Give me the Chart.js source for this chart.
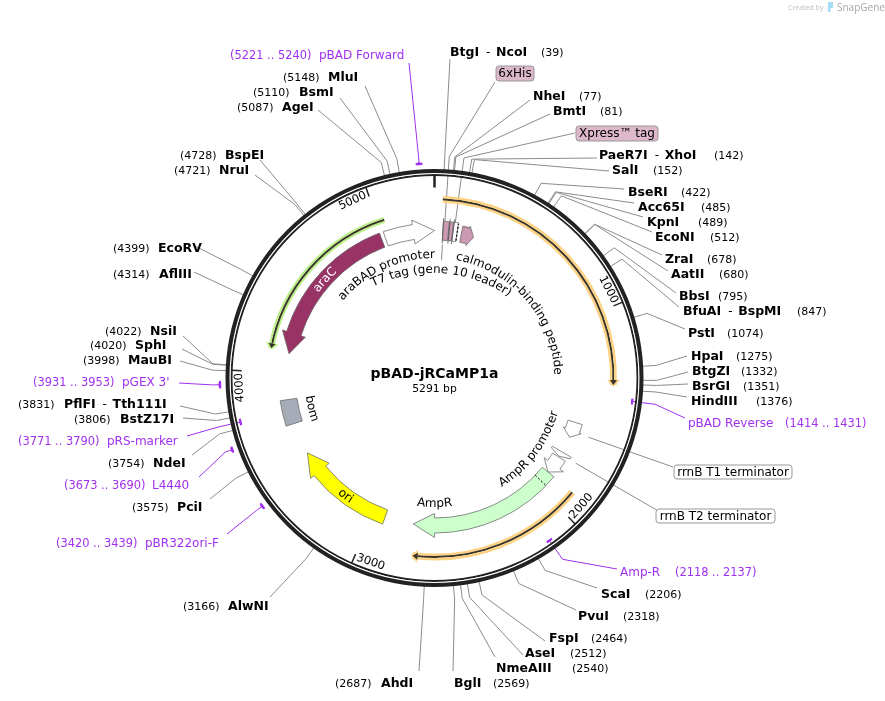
<!DOCTYPE html>
<html>
<head>
<meta charset="utf-8">
<title>pBAD-jRCaMP1a</title>
<script src="https://cdn.jsdelivr.net/npm/chart.js@4"></script>
<style>
  html, body { margin: 0; padding: 0; background: #fff; }
  canvas { display: block; }
</style>
</head>
<body>
<canvas id="map" width="885" height="701"></canvas>
<script>
// Plasmid
const plasmidName = 'pBAD-jRCaMP1a';
const plasmidSize = 5291;
const tickSites = [1000, 2000, 3000, 4000, 5000];

// Restriction sites
const enzymeNames = ['BtgI - NcoI', 'NheI', 'BmtI', 'PaeR7I - XhoI', 'SalI', 'BseRI', 'Acc65I', 'KpnI', 'EcoNI', 'ZraI',
  'AatII', 'BbsI', 'BfuAI - BspMI', 'PstI', 'HpaI', 'BtgZI', 'BsrGI', 'HindIII', 'ScaI', 'PvuI',
  'FspI', 'AseI', 'NmeAIII', 'BglI', 'AhdI', 'AlwNI', 'PciI', 'NdeI', 'BstZ17I', 'PflFI - Tth111I',
  'MauBI', 'SphI', 'NsiI', 'AflIII', 'EcoRV', 'NruI', 'BspEI', 'AgeI', 'BsmI', 'MluI'];
const enzymeSites = [39, 77, 81, 142, 152, 422, 485, 489, 512, 678,
  680, 795, 847, 1074, 1275, 1332, 1351, 1376, 2206, 2318,
  2464, 2512, 2540, 2569, 2687, 3166, 3575, 3754, 3806, 3831,
  3998, 4020, 4022, 4314, 4399, 4721, 4728, 5087, 5110, 5148];

// Primers
const primerNames = ['pBAD Forward', 'pBAD Reverse', 'Amp-R', 'pBR322ori-F', 'L4440', 'pRS-marker', "pGEX 3'"];
const primerFrom = [5221, 1414, 2118, 3420, 3673, 3771, 3931];
const primerTo = [5240, 1431, 2137, 3439, 3690, 3790, 3953];
const primerOutside = [true, false, false, true, true, false, true];

// Features: from / head base / tip, in bp
const featureNames = ['araC', 'araBAD promoter', 'AmpR', 'AmpR promoter', 'ori', 'bom', 'rrnB T1 terminator', 'rrnB T2 terminator',
  'T7 tag', '6xHis', 'Xpress tag', 'calmodulin-binding peptide'];
const featureFrom = [4985, 5007, 1905, 1800, 2933, 3704, 1580, 1765, 48, 83, 106, 155];
const featureHead = [4226, 5170, 2645, 1852, 3395, 3845, 1629, 1775, 80, 103, 130, 195];
const featureTip = [4107, 5291, 2767, 1905, 3520, 3845, 1671, 1795, 80, 103, 130, 228];
const featureSignalEnd = 1969;

// Highlighted translated regions
const orfFrom = [39, 1906, 5032];
const orfTip = [1356, 2749, 4121];

// Text along the circle
const arcTexts = ['araC', 'araBAD promoter', 'T7 tag (gene 10 leader)', 'calmodulin-binding peptide', 'AmpR promoter', 'AmpR', 'ori', 'bom'];
const arcTextSites = [4583, 4925, 62, 725, 1867, 2645, 3190, 3763];

// ---- layout and styles ----
const cx = 434.5, cy = 378;
const leaderElbow = 222;
const enzymeNameX = [450, 533, 553, 599, 612, 628, 638, 647, 655, 665, 671, 679, 683, 688, 691, 692, 692, 691, 601, 578,
  549, 525, 496, 454, 381, 228, 177, 153, 120, 64, 128, 135, 150, 159, 158, 219, 225, 282, 299, 328];
const enzymeNumberX = [541, 579, 600, 714, 653, 681, 701, 698, 710, 707, 719, 718, 797, 727, 736, 741, 743, 756, 645, 623,
  591, 570, 572, 493, 335, 183, 132, 108, 74, 18, 83, 90, 105, 113, 113, 174, 180, 237, 253, 283];
const enzymeY = [52, 96, 111, 155, 170, 192, 207, 222, 237, 259, 274, 296, 311, 333, 356, 371, 386, 401, 594, 616,
  638, 653, 668, 683, 683, 606, 507, 463, 419, 404, 360, 345, 331, 274, 248, 170, 155, 107, 92, 77];
const enzymeEndX = [450, 530, 550, 597, 609, 624, 634, 643, 652, 662, 668, 676, 679, 685, 687, 688, 688, 687, 597, 576,
  545, 523, 495, 453, 419, 270, 210, 192, 183, 180, 180, 182, 183, 194, 193, 255, 260, 318, 340, 365];
const enzymeEndY = [59, 100, 114, 158, 171, 189, 203, 217, 232, 255, 271, 293, 307, 329, 356, 372, 384, 397, 588, 610,
  641, 655, 657, 671, 671, 597, 499, 455, 418, 406, 361, 349, 336, 272, 245, 175, 160, 110, 98, 86];
const primerTextX = [319, 688, 620, 145, 152, 107, 122];
const primerRangeX = [230, 785, 675, 56, 64, 18, 33];
const primerY = [55, 423, 572, 543, 485, 441, 382];
const primerEndX = [409, 685, 617, 227, 199, 187, 179];
const primerEndY = [63, 418, 569, 534, 477, 436, 383];
const featureFill = ['#993366', '#ffffff', '#ccffcc', '#ffffff', '#ffff00', '#a6acb7', '#ffffff', '#ffffff', '#cc99b2', '#cc99b2', '#ffffff', '#cc99b2'];
const featureInner = [140, 140, 140, 140, 140, 139, 140, 136, 138, 138, 138, 138];
const featureOuter = [155, 155, 155, 155, 155, 156, 155, 158, 157, 157, 157, 154];
const featureOver = [4.5, 4.5, 4.5, 4.5, 4.5, 0, 2, 0, 0, 0, 0, 2];
const arcTextRadius = [144, 120, 105, 120, 128, 129, 151, 130];
const arcTextBend = [144, 120, 135, 120, 128, 129, 151, 130];
const arcTextColor = ['#ffffff', '#000', '#000', '#000', '#000', '#000', '#000', '#000'];
const orfRadius = [179, 179, 166];
const orfHalo = ['#fdd283', '#fdd283', '#b9ef86'];
const purple = '#a030f0', gray = '#8c8c8c', dark = '#3a3428', ringBlack = '#222222';
const regular = '12px "DejaVu Sans"', bold = 'bold 12.5px "DejaVu Sans"', number = '11px "DejaVu Sans"';

const rad = bp => bp / plasmidSize * 2 * Math.PI;
const polar = (bp, r) => [cx + r * Math.sin(rad(bp)), cy - r * Math.cos(rad(bp))];

// One doughnut ring: [from, to, colour] spans, the rest stays clear
function ring(width, spans) {
  const data = [], backgroundColor = [];
  let pos = 0;
  spans.slice().sort((a, b) => a[0] - b[0]).forEach(s => {
    data.push(s[0] - pos, s[1] - s[0]);
    backgroundColor.push('transparent', s[2]);
    pos = s[1];
  });
  data.push(plasmidSize - pos);
  backgroundColor.push('transparent');
  return { data, backgroundColor, weight: width, borderWidth: 0, hoverBorderWidth: 0 };
}

const wholeCircle = c => [[0, plasmidSize, c]];
const primerSpans = outside => primerNames.map((n, i) => [primerFrom[i], primerTo[i], purple]).filter((s, i) => primerOutside[i] === outside);
const orfSpans = (list, c) => list.map(i => [Math.min(orfFrom[i], orfTip[i]), Math.max(orfFrom[i], orfTip[i]), c || orfHalo[i]]);
const featureSpans = featureNames.map((n, i) => [Math.min(featureFrom[i], featureHead[i]), Math.max(featureFrom[i], featureHead[i]), featureFill[i]]);

const datasets = [
  ring(2.5, primerSpans(true)),
  ring(4.5, []),
  ring(4, wholeCircle(ringBlack)),
  ring(1, wholeCircle('#ffffff')),
  ring(2, wholeCircle(ringBlack)),
  ring(2, []),
  ring(2, primerSpans(false)),
  ring(15.5, []),
  ring(2.5, orfSpans([0, 1])),
  ring(2, orfSpans([0, 1], dark)),
  ring(2.5, orfSpans([0, 1])),
  ring(6.5, []),
  ring(2, orfSpans([2])),
  ring(2, orfSpans([2], dark)),
  ring(2, orfSpans([2])),
  ring(8, []),
  ring(15, featureSpans)
];

function line(ctx, pts, color, width) {
  ctx.beginPath();
  pts.forEach((p, i) => i ? ctx.lineTo(p[0], p[1]) : ctx.moveTo(p[0], p[1]));
  ctx.strokeStyle = color;
  ctx.lineWidth = width || 1;
  ctx.stroke();
}

function text(ctx, str, x, y, font, color, align) {
  ctx.font = font;
  ctx.fillStyle = color || '#000';
  ctx.textAlign = align || 'left';
  ctx.textBaseline = 'middle';
  ctx.fillText(str, x, y);
}

function box(ctx, str, x, y, w, h, fill) {
  ctx.beginPath();
  ctx.roundRect(x, y, w, h, 3);
  ctx.fillStyle = fill;
  ctx.fill();
  ctx.strokeStyle = '#999';
  ctx.lineWidth = 1;
  ctx.stroke();
  text(ctx, str, x + w / 2, y + h / 2 + 0.5, regular, '#000', 'center');
}

// Feature arrow: band along the circle, head from headBp to tipBp
function arrow(ctx, from, head, tip, rIn, rOut, over, fill, stroke) {
  const ccw = tip < from;
  const midR = (rIn + rOut) / 2;
  const a0 = rad(from) - Math.PI / 2, a1 = rad(head) - Math.PI / 2;
  ctx.beginPath();
  ctx.arc(cx, cy, rOut, a0, a1, ccw);
  if (tip !== head) {
    ctx.lineTo(...polar(head, rOut + over));
    ctx.lineTo(...polar(tip, midR));
    ctx.lineTo(...polar(head, rIn - over));
  }
  ctx.arc(cx, cy, rIn, a1, a0, !ccw);
  ctx.closePath();
  ctx.fillStyle = fill;
  ctx.fill();
  if (stroke) {
    ctx.strokeStyle = stroke;
    ctx.lineWidth = 0.8;
    ctx.stroke();
  }
}

// Letters placed one at a time along a curve through polar(bp, r) with radius bend;
// the lower half reads the other way
function arcText(ctx, str, bp, r, bend, color) {
  const flip = bp > plasmidSize / 4 && bp < plasmidSize * 3 / 4;
  const ox = cx + (r - bend) * Math.sin(rad(bp)), oy = cy - (r - bend) * Math.cos(rad(bp));
  ctx.font = regular;
  ctx.fillStyle = color;
  ctx.textAlign = 'center';
  ctx.textBaseline = 'alphabetic';
  const total = ctx.measureText(str).width;
  let used = 0;
  for (const ch of str) {
    const w = ctx.measureText(ch).width;
    const off = (used + w / 2 - total / 2) / bend;
    const a = rad(bp) + (flip ? -off : off);
    ctx.save();
    ctx.translate(ox + bend * Math.sin(a), oy - bend * Math.cos(a));
    ctx.rotate(flip ? a + Math.PI : a);
    ctx.fillText(ch, 0, 0);
    ctx.restore();
    used += w;
  }
}

function enzymeLabel(ctx, i) {
  const parts = enzymeNames[i].split(' - ');
  let x = enzymeNameX[i];
  const y = enzymeY[i] + 1;
  text(ctx, parts[0], x, y, bold);
  if (parts[1]) {
    x += ctx.measureText(parts[0]).width + 7;
    text(ctx, '-', x, y, regular);
    text(ctx, parts[1], x + 10, y, bold);
  }
  text(ctx, '(' + enzymeSites[i] + ')', enzymeNumberX[i], y, number);
}

const leaderPlugin = {
  id: 'leaders',
  beforeDatasetsDraw(chart) {
    const ctx = chart.ctx;
    enzymeSites.forEach((site, i) => {
      line(ctx, [polar(site, 205), polar(site, leaderElbow), [enzymeEndX[i], enzymeEndY[i]]], gray);
    });
    primerNames.forEach((n, i) => {
      const mid = (primerFrom[i] + primerTo[i]) / 2;
      line(ctx, [polar(mid, primerOutside[i] ? 214 : 199), polar(mid, leaderElbow), [primerEndX[i], primerEndY[i]]], purple);
    });
    // feature callouts, they pass behind the circle
    line(ctx, [polar(56, 150), polar(56, leaderElbow), [495, 82]], gray);
    line(ctx, [polar(112, 150), polar(112, leaderElbow), [575, 133]], gray);
    line(ctx, [polar(1632, 165), [673, 467]], gray);
    line(ctx, [polar(1780, 165), [656.7, 510]], gray);
    line(ctx, [polar(50, 134), polar(50, 118)], gray);
  }
};

const labelPlugin = {
  id: 'labels',
  afterDatasetsDraw(chart) {
    const ctx = chart.ctx;

    // primer marks, a bit longer than their span like the original
    ctx.save();
    ctx.lineCap = 'square';
    primerNames.forEach((n, i) => {
      ctx.beginPath();
      ctx.arc(cx, cy, primerOutside[i] ? 214.5 : 199, rad(primerFrom[i]) - Math.PI / 2, rad(primerTo[i]) - Math.PI / 2);
      ctx.strokeStyle = purple;
      ctx.lineWidth = 2;
      ctx.stroke();
    });
    ctx.restore();

    // feature shapes
    featureNames.forEach((n, i) => {
      arrow(ctx, featureFrom[i], featureHead[i], featureTip[i], featureInner[i], featureOuter[i], featureOver[i], featureFill[i], '#707070');
    });
    ctx.save();
    ctx.setLineDash([2, 2]);
    line(ctx, [polar(featureSignalEnd, 140), polar(featureSignalEnd, 155)], '#000', 1);
    line(ctx, [polar(130, 139), polar(130, 156)], '#000', 1.2);
    ctx.restore();
    [48, 83, 106].forEach(bp => line(ctx, [polar(bp, 135), polar(bp, 160)], '#555', 0.8));

    // arrow heads of the highlighted regions
    orfFrom.forEach((from, i) => {
      const dir = orfTip[i] > from ? -1 : 1;
      const base = orfTip[i] + dir * 24, r = orfRadius[i];
      ctx.beginPath();
      ctx.moveTo(...polar(base, r + 6.5));
      ctx.lineTo(...polar(orfTip[i] - dir * 8, r));
      ctx.lineTo(...polar(base, r - 6.5));
      ctx.closePath();
      ctx.fillStyle = orfHalo[i];
      ctx.fill();
      ctx.beginPath();
      ctx.moveTo(...polar(base, r + 3.5));
      ctx.lineTo(...polar(orfTip[i], r));
      ctx.lineTo(...polar(base, r - 3.5));
      ctx.closePath();
      ctx.fillStyle = dark;
      ctx.fill();
    });

    // position ticks
    line(ctx, [polar(0, 203), polar(0, 190.5)], ringBlack, 2.5);
    tickSites.forEach(site => {
      line(ctx, [polar(site, 203), polar(site, 193)], ringBlack, 1.5);
      const a = rad(site) - 5 * Math.PI / 180;
      const flip = site > plasmidSize / 4 && site < plasmidSize * 3 / 4;
      ctx.save();
      ctx.translate(cx + 195 * Math.sin(a), cy - 195 * Math.cos(a));
      ctx.rotate(flip ? a + Math.PI : a);
      text(ctx, String(site), 0, 0, '11.5px "DejaVu Sans"', '#000', 'center');
      ctx.restore();
    });

    arcTexts.forEach((t, i) => arcText(ctx, t, arcTextSites[i], arcTextRadius[i], arcTextBend[i], arcTextColor[i]));
    enzymeNames.forEach((n, i) => enzymeLabel(ctx, i));

    primerNames.forEach((n, i) => {
      text(ctx, n, primerTextX[i], primerY[i] + 1, regular, purple);
      text(ctx, '(' + primerFrom[i] + ' .. ' + primerTo[i] + ')', primerRangeX[i], primerY[i] + 1, '11.4px "DejaVu Sans"', purple);
    });

    box(ctx, '6xHis', 496, 66, 38, 15, '#dcb8ca');
    box(ctx, 'Xpress\u2122 tag', 576, 126, 82, 15, '#dcb8ca');
    box(ctx, 'rrnB T1 terminator', 674, 465, 118, 14, '#fff');
    box(ctx, 'rrnB T2 terminator', 656, 509, 119, 14, '#fff');

    text(ctx, plasmidName, cx, 374, 'bold 14px "DejaVu Sans"', '#000', 'center');
    text(ctx, plasmidSize + ' bp', cx, 389, '10.8px "DejaVu Sans"', '#000', 'center');

    // credit, top right
    text(ctx, 'Created by', 788, 8, '7px "Open Sans"', '#bdbdbd');
    ctx.fillStyle = '#a6dcf5';
    ctx.fillRect(828, 2, 5, 6);
    ctx.fillRect(828, 8, 2.5, 4);
    text(ctx, 'SnapGene', 837, 8, '10px "Open Sans"', '#a8a8a8');
  }
};

new Chart(document.getElementById('map'), {
  type: 'doughnut',
  data: { labels: [], datasets },
  options: {
    responsive: false,
    animation: false,
    events: [],
    cutout: 140,
    layout: { padding: { left: cx - 216, right: 885 - cx - 216, top: cy - 216, bottom: 701 - cy - 216 } },
    plugins: { legend: { display: false }, tooltip: { enabled: false } }
  },
  plugins: [leaderPlugin, labelPlugin]
});
</script>
</body>
</html>
